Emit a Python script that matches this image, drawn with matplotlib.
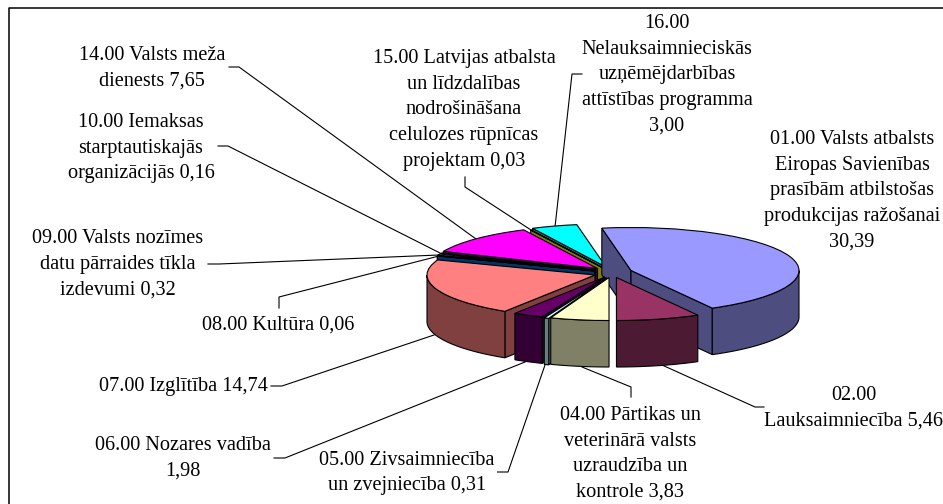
import numpy as np
import matplotlib
matplotlib.use('Agg')
import matplotlib.pyplot as plt
from matplotlib.patches import Polygon
from matplotlib.transforms import Affine2D
from matplotlib.colors import to_rgb

plt.rcParams['font.family'] = ['Liberation Serif', 'DejaVu Serif']

values = [30.39, 5.46, 3.83, 0.31, 1.98, 14.74, 0.06, 0.32, 0.16, 7.65, 0.03, 3.00]
labels = [
    '01.00 Valsts atbalsts\nEiropas Savienības\nprasībām atbilstošas\nprodukcijas ražošanai\n30,39',
    '02.00\nLauksaimniecība 5,46',
    '04.00 Pārtikas un\nveterinārā valsts\nuzraudzība un\nkontrole 3,83',
    '05.00 Zivsaimniecība\nun zvejniecība 0,31',
    '06.00 Nozares vadība\n1,98',
    '07.00 Izglītība 14,74',
    '08.00 Kultūra 0,06',
    '09.00 Valsts nozīmes\ndatu pārraides tīkla\nizdevumi 0,32',
    '10.00 Iemaksas\nstarptautiskajās\norganizācijās 0,16',
    '14.00 Valsts meža\ndienests 7,65',
    '15.00 Latvijas atbalsta\nun līdzdalības\nnodrošināšana\ncelulozes rūpnīcas\nprojektam 0,03',
    '16.00\nNelauksaimnieciskās\nuzņēmējdarbības\nattīstības programma\n3,00',
]
colors = ['#9999FF', '#993366', '#FFFFCC', '#CCFFFF', '#660066', '#FF8080',
          '#0066CC', '#CCCCFF', '#000080', '#FF00FF', '#FFFF00', '#00FFFF']

# layout, in pixels of the 943x504 picture
rx, ry, depth = 168, 43, 46.5
apex_x = [631, 616.5, 609, 607, 605, 595, 594.5, 595, 596, 597.5, 604.5, 606]
apex_y = [270.5, 277.5, 277.5, 278, 277, 275, 271, 270.5, 270, 268.5, 268.7, 267]
label_x = [852, 854, 630, 407, 183, 183, 278, 118, 141, 152, 464, 667]
label_y = [191, 408, 454, 473, 458, 387, 325, 264, 148, 68, 110, 75]
leaders = [
    None,
    [(764, 407), (755, 407), (662, 365)],
    [(631, 397), (631, 387), (582, 367)],
    [(497.5, 472), (508, 472), (545, 365)],
    [(274, 458), (285, 458), (525, 362)],
    [(271, 386), (282, 386), (434, 335)],
    [(279, 308), (279, 297), (439, 256)],
    [(208, 264), (219, 264), (439, 255)],
    [(218, 146), (228, 146), (440, 253)],
    [(229, 67), (239, 67), (476, 239)],
    [(465, 177), (465, 187), (531, 230)],
    [(582, 74), (572, 74), (555, 227)],
]

fig = plt.figure(figsize=(9.43, 5.04), dpi=100)
ax = fig.add_axes([0, 0, 1, 1])

wedges, _ = ax.pie(values, colors=colors, startangle=100, counterclock=False, frame=True,
                   wedgeprops={'edgecolor': 'black', 'linewidth': 0.8})


def point(x0, y0, theta):
    t = np.radians(theta)
    return x0 + rx * np.cos(t), y0 - ry * np.sin(t)


def add_wall(xy, color, z):
    ax.add_patch(Polygon(xy, closed=True, facecolor=color, edgecolor='black', linewidth=0.8, zorder=z))


def mid_y(i):
    mid = (wedges[i].theta1 + wedges[i].theta2) / 2
    return apex_y[i] - 0.5 * ry * np.sin(np.radians(mid))


# back slices first, front ones over them
order = sorted(range(len(values)), key=mid_y)
for z, i in enumerate(order):
    w = wedges[i]
    x0, y0 = apex_x[i], apex_y[i]
    dark = tuple(c * 0.5 for c in to_rgb(colors[i]))

    for theta, visible in ((w.theta2, np.cos(np.radians(w.theta2)) < -1e-6),
                           (w.theta1, np.cos(np.radians(w.theta1)) > 1e-6)):
        if visible:
            px, py = point(x0, y0, theta)
            add_wall([(x0, y0), (px, py), (px, py + depth), (x0, y0 + depth)], dark, 2 + z)

    lo, hi = max(w.theta1, -180), min(w.theta2, 0)
    if hi > lo:
        th = np.linspace(lo, hi, 60)
        px, py = point(x0, y0, th)
        add_wall(np.r_[np.c_[px, py], np.c_[px[::-1], py[::-1] + depth]], dark, 2 + z)

    w.set_transform(Affine2D().scale(rx, -ry).translate(x0, y0) + ax.transData)
    w.set_zorder(2.5 + z)

for i, lab in enumerate(labels):
    ax.text(label_x[i], label_y[i], lab, ha='center', va='center', fontsize=14.6,
            linespacing=1.47, color='black', zorder=40)
    if leaders[i] is not None:
        xs, ys = zip(*leaders[i])
        ax.plot(xs, ys, color='black', linewidth=0.8, zorder=1)

# only the top and left sides of the chart border are in the picture
ax.plot([9, 9, 943], [504, 8, 8], color='black', linewidth=1.1, zorder=50)

ax.set_aspect('auto')
ax.set_xlim(0, 943)
ax.set_ylim(504, 0)
ax.axis('off')

fig.savefig('out.png', dpi=100)
